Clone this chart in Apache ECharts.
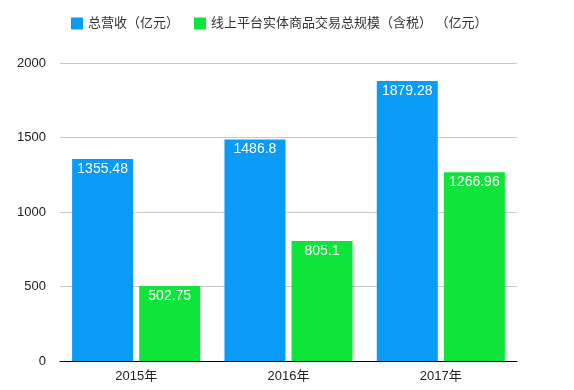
<!DOCTYPE html>
<html><head><meta charset="utf-8">
<script src="https://cdn.jsdelivr.net/npm/echarts@6/dist/echarts.min.js"></script>
<style>html,body{margin:0;padding:0;background:#fff}#c{width:574px;height:390px}</style>
</head><body><div id="c"></div>
<script>
const categories = ['2015年', '2016年', '2017年'];
const revenue = [1355.48, 1486.8, 1879.28];
const gmv = [502.75, 805.1, 1266.96];
const seriesNames = ['总营收（亿元）', '线上平台实体商品交易总规模（含税） （亿元）'];
const yTicks = [0, 500, 1000, 1500, 2000];

const font = '"Liberation Sans", "Noto Sans CJK SC", sans-serif';
const chart = echarts.init(document.getElementById('c'), null, {renderer: 'canvas'});
const label = {show: true, position: 'insideTop', distance: 3, color: '#fff', fontSize: 14, fontFamily: font};
chart.setOption({
  animation: false,
  textStyle: {fontFamily: font},
  legend: {
    left: 66, top: 12, itemWidth: 12, itemHeight: 12, itemGap: 15,
    icon: 'rect',
    textStyle: {fontSize: 13, color: '#333', fontFamily: font},
    data: seriesNames
  },
  grid: {left: 60, right: 57, top: 63, bottom: 29, containLabel: false},
  xAxis: {
    type: 'category', data: categories,
    axisLine: {lineStyle: {color: '#000', width: 1}},
    axisTick: {show: false},
    axisLabel: {color: '#222', fontSize: 13, margin: 9, fontFamily: font}
  },
  yAxis: {
    type: 'value', min: yTicks[0], max: yTicks[yTicks.length - 1], interval: 500,
    axisLine: {show: false}, axisTick: {show: false},
    axisLabel: {color: '#222', fontSize: 13, margin: 14, fontFamily: font, formatter: v => String(v)},
    splitLine: {lineStyle: {color: '#c8c8c8', width: 1}}
  },
  series: [
    {name: seriesNames[0], type: 'bar', data: revenue, itemStyle: {color: '#0a9bf7'},
     barWidth: 61, barGap: '10%', label: label},
    {name: seriesNames[1], type: 'bar', data: gmv, itemStyle: {color: '#0fe43a'},
     barWidth: 61, label: label}
  ]
});
</script></body></html>
